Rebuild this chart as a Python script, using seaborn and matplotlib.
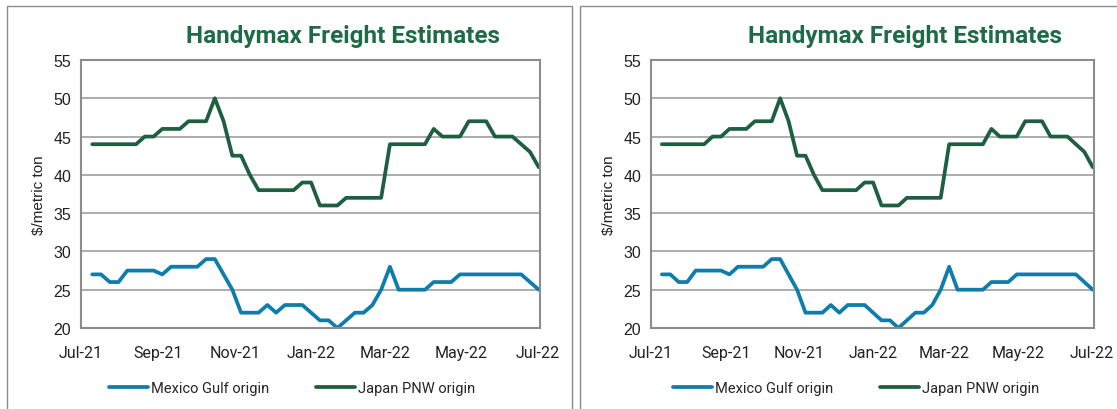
import pandas as pd
import matplotlib.pyplot as plt
import matplotlib.dates as mdates
from matplotlib.patches import Rectangle
import seaborn as sns

# ── Data (weekly estimates, $/metric ton) ───────────────────
dates = pd.date_range("2021-07-10", periods=52, freq="7D")

mexico_gulf = [27, 27, 26, 26, 27.5, 27.5, 27.5, 27.5, 27, 28,
               28, 28, 28, 29, 29, 27, 25, 22, 22, 22,
               23, 22, 23, 23, 23, 22, 21, 21, 20, 21,
               22, 22, 23, 25, 28, 25, 25, 25, 25, 26,
               26, 26, 27, 27, 27, 27, 27, 27, 27, 27,
               26, 25]

japan_pnw = [44, 44, 44, 44, 44, 44, 45, 45, 46, 46,
             46, 47, 47, 47, 50, 47, 42.5, 42.5, 40, 38,
             38, 38, 38, 38, 39, 39, 36, 36, 36, 37,
             37, 37, 37, 37, 44, 44, 44, 44, 44, 46,
             45, 45, 45, 47, 47, 47, 45, 45, 45, 44,
             43, 41]

series_names = ["Mexico Gulf origin", "Japan PNW origin"]
series_colors = ["#0f7dab", "#1e5f41"]
title_text = "Handymax Freight Estimates"
y_label = "$/metric ton"

df = pd.DataFrame({"date": dates,
                   series_names[0]: mexico_gulf,
                   series_names[1]: japan_pnw})

sns.set_style("white")
narrow = ["Roboto", "DejaVu Sans"]
plt.rcParams["font.family"] = ["Liberation Sans", "DejaVu Sans"]

W, H = 1117, 410
fig = plt.figure(figsize=(W / 100, H / 100), dpi=100)

# panel boxes and axes positions in pixels (left, right)
panels = [
    {"box": (7, 572), "ax": (81, 540), "title_x": 343, "leg_x": 292},
    {"box": (580, 1130), "ax": (651, 1094), "title_x": 905, "leg_x": 856},
]
ax_top, ax_bottom = 61, 329

for p in panels:
    bx0, bx1 = p["box"]
    fig.add_artist(Rectangle((bx0 / W, -5 / H), (bx1 - bx0) / W, (H - 7 + 5) / H,
                             transform=fig.transFigure, fill=False,
                             edgecolor="#8c8c8c", lw=1.0))

    a0, a1 = p["ax"]
    ax = fig.add_axes([a0 / W, (H - ax_bottom) / H, (a1 - a0) / W,
                       (ax_bottom - ax_top) / H])

    for name, color in zip(series_names, series_colors):
        sns.lineplot(data=df, x="date", y=name, ax=ax, color=color,
                     lw=2.7, label=name, legend=False)

    ax.set_xlim(pd.Timestamp("2021-07-01"), pd.Timestamp("2022-07-03"))
    ax.set_ylim(20, 55)
    ax.set_yticks(range(20, 56, 5))
    ax.xaxis.set_major_locator(mdates.MonthLocator(bymonth=[1, 3, 5, 7, 9, 11]))
    ax.xaxis.set_major_formatter(mdates.DateFormatter("%b-%y"))

    ax.grid(axis="y", color="#a6a6a6", lw=1.3)
    ax.grid(axis="x", visible=False)
    for sp in ax.spines.values():
        sp.set_color("#8c8c8c")
        sp.set_linewidth(1.5)

    ax.tick_params(axis="both", direction="out", length=5, width=1.2,
                   color="#8c8c8c", colors="#222222")
    ax.tick_params(axis="y", labelsize=11.5, pad=2)
    ax.tick_params(axis="x", labelsize=11.5, pad=7)
    for lab in ax.get_xticklabels():
        lab.set_family(narrow)

    ax.set_xlabel("")
    ax.set_ylabel(y_label, fontsize=11, color="#222222", labelpad=5)

    fig.text(p["title_x"] / W, (H - 37) / H, title_text, ha="center", va="center",
             fontsize=17.5, fontweight="bold", color="#1f6b47", family=narrow)

    handles, labels = ax.get_legend_handles_labels()
    fig.legend(handles, labels, loc="center",
               bbox_to_anchor=(p["leg_x"] / W, 21 / H), ncol=2, frameon=False,
               handlelength=2.7, handletextpad=0.2, columnspacing=3.2,
               prop={"family": narrow, "size": 10.5})

fig.savefig("out.png", dpi=100)
